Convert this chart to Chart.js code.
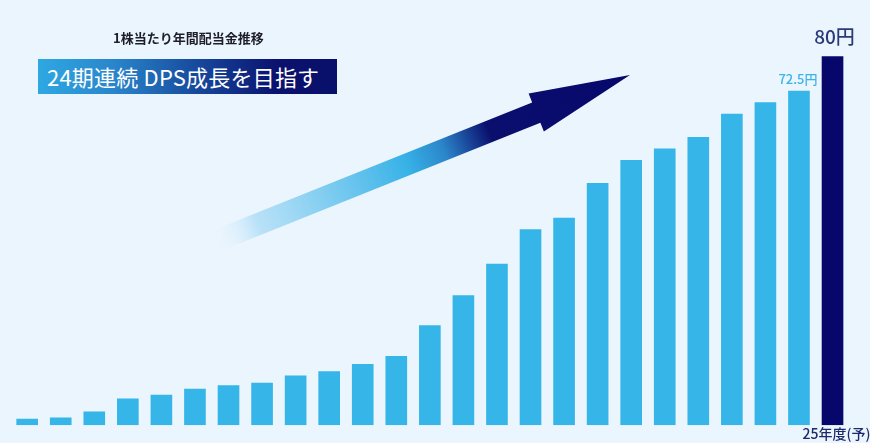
<!DOCTYPE html>
<html lang="ja">
<head>
<meta charset="utf-8">
<script src="https://cdn.jsdelivr.net/npm/chart.js@4/dist/chart.umd.min.js"></script>
<style>
  html, body { margin: 0; padding: 0; background: #ebf5fd; }
  .wrap { position: relative; width: 870px; height: 443px; overflow: hidden; background: #ebf5fd; }
  canvas { position: absolute; left: 0; top: 0; }
  .title {
    position: absolute; left: 113px; top: 28px;
    font: 700 13px "Noto Sans CJK JP", "Noto Sans", sans-serif; color: #1e1e28;
  }
  .banner {
    position: absolute; left: 38px; top: 59px; width: 299px; height: 35px;
    background: linear-gradient(90deg, #2ea8e2 0%, #2a86cc 25%, #16459a 55%, #0a126e 80%, #09106c 100%);
    color: #fff; box-sizing: border-box; padding-left: 9px;
    font: 400 22px "Noto Sans CJK JP", "Noto Sans", sans-serif; line-height: 35px;
    letter-spacing: 0.2px; white-space: nowrap;
  }
</style>
</head>
<body>
<div class="wrap">
  <canvas id="dpsChart" width="870" height="443"></canvas>
  <div class="title">1株当たり年間配当金推移</div>
  <div class="banner">24期連続 DPS成長を目指す</div>
</div>
<script>
// fiscal years, only the last one is printed
const years = [
  '01', '02', '03', '04', '05', '06', '07', '08', '09', '10', '11', '12', '13',
  '14', '15', '16', '17', '18', '19', '20', '21', '22', '23', '24', '25年度(予)',
];
// dividend per share (yen)
const dps = [
  1.4, 1.7, 3.0, 5.8, 6.6, 7.9, 8.7, 9.2, 10.8, 11.7, 13.3, 15.0, 21.7,
  28.2, 35.0, 42.5, 45.0, 52.5, 57.5, 60.0, 62.5, 67.5, 70.0, 72.5, 80.0,
];
// value labels shown on the chart
const valueLabels = { 23: '72.5円', 24: '80円' };

const barBlue = '#35b5e8';
const barNavy = '#07076b';
const barColors = dps.map((v, i) => (i === dps.length - 1 ? barNavy : barBlue));

// gradient arrow behind the bars
const arrowPlugin = {
  id: 'arrow',
  beforeDatasetsDraw(chart) {
    const ctx = chart.ctx;
    const tail = { x: 216, y: 241 };
    const tip = { x: 630, y: 75 };
    const dx = tip.x - tail.x;
    const dy = tip.y - tail.y;
    const len = Math.sqrt(dx * dx + dy * dy);
    const ang = Math.atan2(dy, dx);
    const headLen = 101;
    const shaftHalf = 11;
    const headHalf = 20.5;

    ctx.save();
    ctx.translate(tail.x, tail.y);
    ctx.rotate(ang);
    const g = ctx.createLinearGradient(0, 0, len, 0);
    g.addColorStop(0, 'rgba(235,245,253,0)');
    g.addColorStop(0.1, 'rgba(180,223,247,0.9)');
    g.addColorStop(0.46, '#37b2e7');
    g.addColorStop(0.55, '#2b86c9');
    g.addColorStop(0.66, '#0a0f6e');
    g.addColorStop(1, '#07076b');
    ctx.fillStyle = g;
    ctx.beginPath();
    ctx.moveTo(0, -shaftHalf);
    ctx.lineTo(len - headLen, -shaftHalf);
    ctx.lineTo(len - headLen, -headHalf);
    ctx.lineTo(len, 0);
    ctx.lineTo(len - headLen, headHalf);
    ctx.lineTo(len - headLen, shaftHalf);
    ctx.lineTo(0, shaftHalf);
    ctx.closePath();
    ctx.fill();
    ctx.restore();
  },
};

// value labels above selected bars and the last category label
const labelPlugin = {
  id: 'labels',
  afterDatasetsDraw(chart) {
    const ctx = chart.ctx;
    const meta = chart.getDatasetMeta(0);
    ctx.save();
    ctx.textAlign = 'center';
    ctx.textBaseline = 'alphabetic';
    Object.keys(valueLabels).forEach((k) => {
      const i = Number(k);
      const bar = meta.data[i];
      if (i === dps.length - 1) {
        ctx.fillStyle = '#2b3b7a';
        ctx.font = '500 19px "Noto Sans CJK JP", "Noto Sans", sans-serif';
        ctx.fillText(valueLabels[k], bar.x + 2, bar.y - 12);
      } else {
        ctx.fillStyle = '#3cb4e7';
        ctx.font = '500 13px "Noto Sans CJK JP", "Noto Sans", sans-serif';
        ctx.fillText(valueLabels[k], bar.x - 1, bar.y - 7);
      }
    });
    const last = meta.data[dps.length - 1];
    ctx.fillStyle = '#1c2a6b';
    ctx.font = '500 14px "Noto Sans CJK JP", "Noto Sans", sans-serif';
    ctx.textBaseline = 'top';
    ctx.fillText(years[years.length - 1], last.x + 4, chart.chartArea.bottom + 1);
    ctx.restore();
  },
};

new Chart(document.getElementById('dpsChart'), {
  type: 'bar',
  data: {
    labels: years,
    datasets: [
      {
        data: dps,
        backgroundColor: barColors,
        borderWidth: 0,
        categoryPercentage: 1,
        barPercentage: 0.645,
      },
    ],
  },
  options: {
    responsive: false,
    animation: false,
    layout: { padding: { left: 10.4, right: 20.7, top: 10, bottom: 17.7 } },
    scales: {
      x: { display: false },
      y: { display: false, min: 0, max: 90 },
    },
    plugins: {
      legend: { display: false },
      tooltip: { enabled: false },
    },
  },
  plugins: [arrowPlugin, labelPlugin],
});
</script>
</body>
</html>
